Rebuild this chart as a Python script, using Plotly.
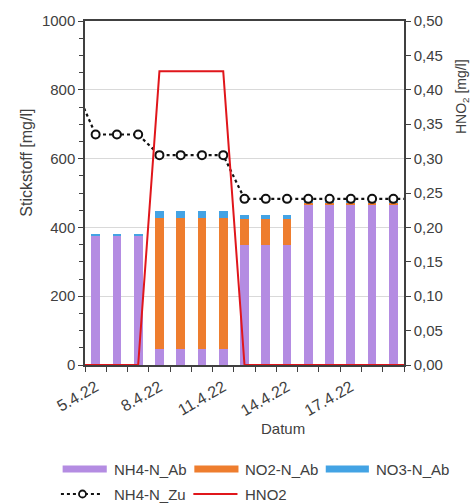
import plotly.graph_objects as go

# Sampling days (4.4.2022 - 20.4.2022); the outer days only carry the line series
dates = ["2022-04-04", "2022-04-05", "2022-04-06", "2022-04-07", "2022-04-08",
         "2022-04-09", "2022-04-10", "2022-04-11", "2022-04-12", "2022-04-13",
         "2022-04-14", "2022-04-15", "2022-04-16", "2022-04-17", "2022-04-18",
         "2022-04-19", "2022-04-20"]

# Effluent nitrogen fractions [mg/l] (stacked bars)
nh4_ab = [None, 374, 374, 374, 46, 46, 46, 46, 349, 349, 349, 466, 466, 466, 466, 466, None]
no2_ab = [None, 0, 0, 0, 380, 380, 380, 380, 75, 75, 75, 7, 7, 7, 7, 7, None]
no3_ab = [None, 7, 7, 7, 23, 23, 23, 23, 12, 12, 12, 1, 1, 1, 1, 1, None]

# Influent ammonium nitrogen [mg/l]
nh4_zu = [810, 670, 670, 670, 610, 610, 610, 610, 483, 483, 483, 483, 483, 483, 483, 483, 483]

# Free nitrous acid [mg/l] (secondary axis)
hno2 = [0, 0, 0, 0, 0.427, 0.427, 0.427, 0.427, 0, 0, 0, 0, 0, 0, 0, 0, 0]

C_NH4 = "#B48CE2"
C_NO2 = "#EE7D2E"
C_NO3 = "#43A3E4"
C_ZU = "#111111"
C_HNO2 = "#E0161B"
TXT = "#404040"
AX = "#404040"
FONT = "Liberation Sans, Arial, sans-serif"

DAY_MS = 86400000
bar_w = 0.41 * DAY_MS

fig = go.Figure()
fig.add_trace(go.Bar(x=dates, y=nh4_ab, name="NH4-N_Ab", marker_color=C_NH4,
                     marker_line_width=0, width=bar_w))
fig.add_trace(go.Bar(x=dates, y=no2_ab, name="NO2-N_Ab", marker_color=C_NO2,
                     marker_line_width=0, width=bar_w))
fig.add_trace(go.Bar(x=dates, y=no3_ab, name="NO3-N_Ab", marker_color=C_NO3,
                     marker_line_width=0, width=bar_w))
fig.add_trace(go.Scatter(x=dates, y=nh4_zu, name="NH4-N_Zu", mode="lines+markers",
                         line=dict(color=C_ZU, width=2.2, dash="dot"),
                         marker=dict(symbol="circle", size=8, color="white",
                                     line=dict(color=C_ZU, width=2))))
fig.add_trace(go.Scatter(x=dates, y=hno2, name="HNO2", mode="lines", yaxis="y2",
                         line=dict(color=C_HNO2, width=2)))

fig.update_layout(
    width=471, height=504,
    margin=dict(l=85, r=67, t=21, b=139),
    paper_bgcolor="white", plot_bgcolor="white",
    barmode="stack", showlegend=False,
    separators=",.",
    font=dict(family=FONT, size=15, color=TXT),
    xaxis=dict(
        type="date",
        range=["2022-04-04 12:00", "2022-04-19 12:00"],
        tick0="2022-04-05", dtick=3 * DAY_MS, tickformat="%-d.%-m.%y",
        tickangle=-30, ticks="", ticklen=0, ticklabelstandoff=5,
        minor=dict(ticks="outside", ticklen=5, tickcolor=AX, tickwidth=1,
                   tick0="2022-04-04 12:00", dtick=DAY_MS, showgrid=False),
        showgrid=False, showline=True, linecolor=AX, linewidth=1.5, mirror=True,
        tickfont=dict(size=16, color=TXT), zeroline=False,
    ),
    yaxis=dict(
        range=[0, 1000], dtick=200, tick0=0,
        ticks="outside", ticklen=5, tickcolor=AX, tickwidth=1,
        minor=dict(ticks="outside", ticklen=4, tickcolor=AX, dtick=50, showgrid=False),
        showgrid=True, gridcolor="#D9D9D9", gridwidth=1,
        showline=True, linecolor=AX, linewidth=1.5, zeroline=False,
        tickfont=dict(size=15, color=TXT),
    ),
    yaxis2=dict(
        overlaying="y", side="right",
        range=[0, 0.5], dtick=0.05, tick0=0, tickformat=".2f",
        ticks="outside", ticklen=5, tickcolor=AX, tickwidth=1,
        showgrid=False, showline=True, linecolor=AX, linewidth=1.5, zeroline=False,
        tickfont=dict(size=15, color=TXT),
    ),
)

# Axis titles
fig.add_annotation(text="Stickstoff [mg/l]", xref="paper", yref="paper",
                   x=-0.186, y=0.587, textangle=-90, showarrow=False,
                   font=dict(size=16, color=TXT), xanchor="center", yanchor="middle")
fig.add_annotation(text="HNO<sub>2</sub> [mg/l]", xref="paper", yref="paper",
                   x=1.182, y=0.779, textangle=-90, showarrow=False,
                   font=dict(size=14, color=TXT), xanchor="center", yanchor="middle")
fig.add_annotation(text="Datum", xref="paper", yref="paper",
                   x=0.62, y=-0.186, showarrow=False,
                   font=dict(size=15, color=TXT), xanchor="center", yanchor="middle")

# Legend drawn below the plot (two rows)
def px_x(p):
    return (p - 85) / 318

def px_y(p):
    return (365 - p) / 344

row1, row2 = 469, 494
swatches = [(62.7, 106.7, C_NH4, "NH4-N_Ab"),
            (194, 238, C_NO2, "NO2-N_Ab"),
            (325, 368, C_NO3, "NO3-N_Ab")]
for x0, x1, col, label in swatches:
    fig.add_shape(type="rect", xref="paper", yref="paper",
                  x0=px_x(x0), x1=px_x(x1), y0=px_y(row1 + 3.5), y1=px_y(row1 - 3.5),
                  fillcolor=col, line_width=0)
    fig.add_annotation(text=label, xref="paper", yref="paper", x=px_x(x1 + 5),
                       y=px_y(row1), xanchor="left", yanchor="middle", showarrow=False,
                       font=dict(size=15, color=TXT))

fig.add_shape(type="line", xref="paper", yref="paper",
              x0=px_x(61), x1=px_x(101), y0=px_y(row2), y1=px_y(row2),
              line=dict(color=C_ZU, width=2.2, dash="dot"))
fig.add_shape(type="circle", xref="paper", yref="paper",
              x0=px_x(79), x1=px_x(86), y0=px_y(row2 + 3.5), y1=px_y(row2 - 3.5),
              fillcolor="white", line=dict(color=C_ZU, width=1.8))
fig.add_annotation(text="NH4-N_Zu", xref="paper", yref="paper", x=px_x(112),
                   y=px_y(row2), xanchor="left", yanchor="middle", showarrow=False,
                   font=dict(size=15, color=TXT))
fig.add_shape(type="line", xref="paper", yref="paper",
              x0=px_x(193), x1=px_x(237), y0=px_y(row2), y1=px_y(row2),
              line=dict(color=C_HNO2, width=2))
fig.add_annotation(text="HNO2", xref="paper", yref="paper", x=px_x(243),
                   y=px_y(row2), xanchor="left", yanchor="middle", showarrow=False,
                   font=dict(size=15, color=TXT))

fig.write_html("out.html")
